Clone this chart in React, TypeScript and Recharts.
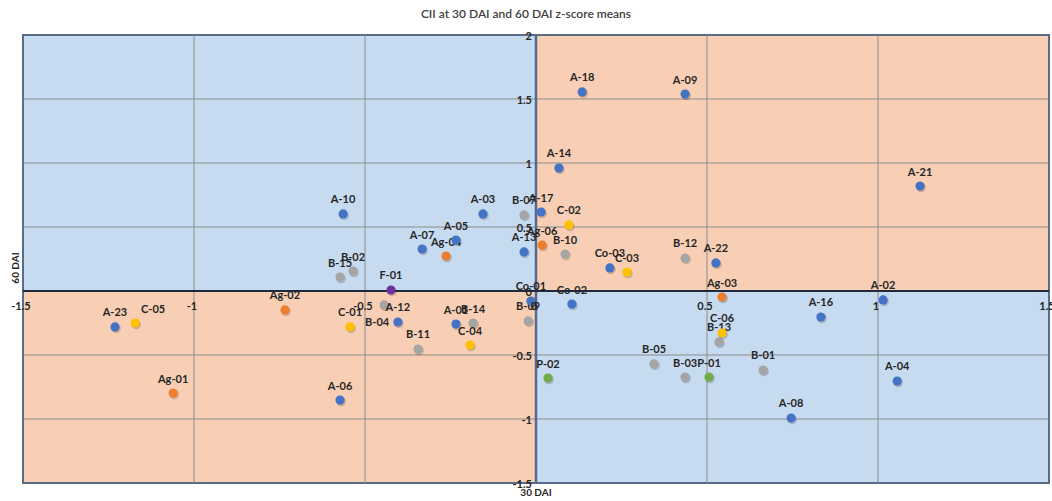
import React from "react";
import {
  ScatterChart,
  Scatter,
  XAxis,
  YAxis,
  ZAxis,
  ReferenceArea,
  ReferenceLine,
} from "recharts";

type Pt = { name: string; x: number; y: number };

const blueSeries: Pt[] = [
  { name: "A-23", x: -1.231, y: -0.281 },
  { name: "A-06", x: -0.573, y: -0.852 },
  { name: "A-12", x: -0.404, y: -0.242 },
  { name: "A-01", x: -0.234, y: -0.258 },
  { name: "Co-01", x: -0.015, y: -0.078 },
  { name: "A-10", x: -0.564, y: 0.602 },
  { name: "A-07", x: -0.333, y: 0.328 },
  { name: "A-05", x: -0.234, y: 0.398 },
  { name: "A-03", x: -0.155, y: 0.602 },
  { name: "A-17", x: 0.015, y: 0.617 },
  { name: "A-13", x: -0.035, y: 0.305 },
  { name: "Co-02", x: 0.105, y: -0.102 },
  { name: "Co-03", x: 0.216, y: 0.18 },
  { name: "A-22", x: 0.526, y: 0.219 },
  { name: "A-18", x: 0.135, y: 1.555 },
  { name: "A-09", x: 0.436, y: 1.539 },
  { name: "A-14", x: 0.067, y: 0.961 },
  { name: "A-21", x: 1.123, y: 0.82 },
  { name: "A-02", x: 1.015, y: -0.07 },
  { name: "A-16", x: 0.833, y: -0.203 },
  { name: "A-08", x: 0.746, y: -0.992 },
  { name: "A-04", x: 1.056, y: -0.703 },
];

const orangeSeries: Pt[] = [
  { name: "Ag-01", x: -1.061, y: -0.797 },
  { name: "Ag-02", x: -0.734, y: -0.148 },
  { name: "Ag-04", x: -0.263, y: 0.273 },
  { name: "Ag-06", x: 0.018, y: 0.359 },
  { name: "Ag-03", x: 0.544, y: -0.047 },
];

const greySeries: Pt[] = [
  { name: "B-04", x: -0.444, y: -0.109 },
  { name: "B-11", x: -0.345, y: -0.453 },
  { name: "B-14", x: -0.184, y: -0.25 },
  { name: "B-09", x: -0.023, y: -0.234 },
  { name: "B-15", x: -0.573, y: 0.109 },
  { name: "B-02", x: -0.535, y: 0.156 },
  { name: "B-07", x: -0.035, y: 0.594 },
  { name: "B-10", x: 0.085, y: 0.289 },
  { name: "B-12", x: 0.436, y: 0.258 },
  { name: "B-13", x: 0.535, y: -0.398 },
  { name: "B-05", x: 0.345, y: -0.57 },
  { name: "B-03", x: 0.436, y: -0.672 },
  { name: "B-01", x: 0.664, y: -0.617 },
];

const yellowSeries: Pt[] = [
  { name: "C-05", x: -1.172, y: -0.25 },
  { name: "C-01", x: -0.544, y: -0.281 },
  { name: "C-04", x: -0.193, y: -0.422 },
  { name: "C-02", x: 0.096, y: 0.516 },
  { name: "C-03", x: 0.266, y: 0.148 },
  { name: "C-06", x: 0.544, y: -0.328 },
];

const greenSeries: Pt[] = [
  { name: "P-02", x: 0.035, y: -0.68 },
  { name: "P-01", x: 0.506, y: -0.672 },
];

const purpleSeries: Pt[] = [{ name: "F-01", x: -0.424, y: 0.008 }];

const xTicks = [-1.5, -1, -0.5, 0, 0.5, 1, 1.5];
const yTicks = [-1.5, -1, -0.5, 0, 0.5, 1, 1.5, 2];

const X_MIN = -1.5;
const X_MAX = 1.5;
const Y_MIN = -1.5;
const Y_MAX = 2;

const W = 1052;
const H = 501;
const X_AXIS_H = 18;
const Y_AXIS_W = 23;
const MARGIN = { top: 35, right: 3, bottom: 0, left: 0 };
const PLOT_LEFT = MARGIN.left + Y_AXIS_W;
const PLOT_W = W - PLOT_LEFT - MARGIN.right;
const PLOT_H = H - MARGIN.top - MARGIN.bottom - X_AXIS_H;
const ZERO_X = PLOT_LEFT + (PLOT_W * (0 - X_MIN)) / (X_MAX - X_MIN);
const ZERO_Y = MARGIN.top + (PLOT_H * (Y_MAX - 0)) / (Y_MAX - Y_MIN);

const FONT = "Lato, 'Open Sans', sans-serif";
const TEXT = "#262626";

const BLUE_BG = "#C6DAF0";
const ORANGE_BG = "#F8CFB4";
const GRID = "#8c8c8c";

// label nudges (styling only)
const labelNudge: Record<string, { dx: number; dy: number }> = {
  "C-05": { dx: 18, dy: 0 },
  "B-04": { dx: -7, dy: 32 },
};

const fmt = (v: number) => String(v);

const XTick = (props: any) => {
  const { x, payload } = props;
  return (
    <text
      x={x - 2}
      y={ZERO_Y + 14}
      textAnchor="middle"
      dominantBaseline="central"
      fontFamily={FONT}
      fontSize={11}
      fontWeight={700}
      fill={TEXT}
    >
      {fmt(payload.value)}
    </text>
  );
};

const YTick = (props: any) => {
  const { y, payload } = props;
  return (
    <text
      x={ZERO_X - 4}
      y={y}
      textAnchor="end"
      dominantBaseline="central"
      fontFamily={FONT}
      fontSize={11}
      fontWeight={700}
      fill={TEXT}
    >
      {fmt(payload.value)}
    </text>
  );
};

const makeShape = (color: string) => (props: any) => {
  const { cx, cy, payload } = props;
  if (cx == null || cy == null) return <g />;
  const n = labelNudge[payload.name] || { dx: 0, dy: 0 };
  return (
    <g>
      <circle cx={cx + 1} cy={cy + 1.5} r={4.8} fill="#000" opacity={0.18} />
      <circle cx={cx} cy={cy} r={4.6} fill={color} />
      <text
        x={cx + n.dx}
        y={cy - 15 + n.dy}
        textAnchor="middle"
        dominantBaseline="central"
        fontFamily={FONT}
        fontSize={11}
        fontWeight={700}
        fill={TEXT}
      >
        {payload.name}
      </text>
    </g>
  );
};

const series: { data: Pt[]; color: string; key: string }[] = [
  { data: greySeries, color: "#A5A5A5", key: "grey" },
  { data: orangeSeries, color: "#ED7D31", key: "orange" },
  { data: yellowSeries, color: "#FFC000", key: "yellow" },
  { data: greenSeries, color: "#70AD47", key: "green" },
  { data: purpleSeries, color: "#7030A0", key: "purple" },
  { data: blueSeries, color: "#4472C4", key: "blue" },
];

export default function App() {
  return (
    <div
      style={{
        position: "absolute",
        left: 0,
        top: 0,
        width: W,
        height: H,
        background: "#fff",
        overflow: "hidden",
      }}
    >
      <div
        style={{
          position: "absolute",
          left: 0,
          top: 6,
          width: W,
          textAlign: "center",
          fontFamily: FONT,
          fontSize: 12,
          color: "#404040",
          fontWeight: 600,
        }}
      >
        CII at 30 DAI and 60 DAI z-score means
      </div>
      <ScatterChart width={W} height={H} margin={MARGIN}>
        <ReferenceArea x1={X_MIN} x2={0} y1={0} y2={Y_MAX} fill={BLUE_BG} fillOpacity={1} stroke="none" />
        <ReferenceArea x1={0} x2={X_MAX} y1={0} y2={Y_MAX} fill={ORANGE_BG} fillOpacity={1} stroke="none" />
        <ReferenceArea x1={X_MIN} x2={0} y1={Y_MIN} y2={0} fill={ORANGE_BG} fillOpacity={1} stroke="none" />
        <ReferenceArea x1={0} x2={X_MAX} y1={Y_MIN} y2={0} fill={BLUE_BG} fillOpacity={1} stroke="none" />
        {xTicks
          .filter((t) => t !== 0 && t !== X_MIN && t !== X_MAX)
          .map((t) => (
            <ReferenceLine key={"gx" + t} x={t} stroke={GRID} strokeWidth={1} />
          ))}
        {yTicks
          .filter((t) => t !== 0 && t !== Y_MIN && t !== Y_MAX)
          .map((t) => (
            <ReferenceLine key={"gy" + t} y={t} stroke={GRID} strokeWidth={1} />
          ))}
        <ReferenceArea
          x1={X_MIN}
          x2={X_MAX}
          y1={Y_MIN}
          y2={Y_MAX}
          fill="none"
          fillOpacity={0}
          stroke="#5a6b88"
          strokeWidth={2}
        />
        <ReferenceLine x={0} stroke="#55698c" strokeWidth={2.5} />
        <ReferenceLine y={0} stroke="#1f2a3f" strokeWidth={2} />
        <XAxis
          type="number"
          dataKey="x"
          domain={[X_MIN, X_MAX]}
          ticks={xTicks}
          height={X_AXIS_H}
          axisLine={false}
          tickLine={false}
          tick={XTick}
          interval={0}
          allowDataOverflow
        />
        <YAxis
          type="number"
          dataKey="y"
          domain={[Y_MIN, Y_MAX]}
          ticks={yTicks}
          width={Y_AXIS_W}
          axisLine={false}
          tickLine={false}
          tick={YTick}
          interval={0}
          allowDataOverflow
        />
        <ZAxis range={[60, 60]} />
        {series.map((s) => (
          <Scatter
            key={s.key}
            data={s.data}
            fill={s.color}
            shape={makeShape(s.color)}
            isAnimationActive={false}
          />
        ))}
      </ScatterChart>
      <div
        style={{
          position: "absolute",
          left: ZERO_X - 40,
          top: 486,
          width: 80,
          textAlign: "center",
          fontFamily: FONT,
          fontSize: 10,
          fontWeight: 700,
          color: TEXT,
        }}
      >
        30 DAI
      </div>
      <div
        style={{
          position: "absolute",
          left: -25,
          top: 262,
          width: 80,
          textAlign: "center",
          fontFamily: FONT,
          fontSize: 10,
          fontWeight: 700,
          color: TEXT,
          transform: "rotate(-90deg)",
        }}
      >
        60 DAI
      </div>
    </div>
  );
}
